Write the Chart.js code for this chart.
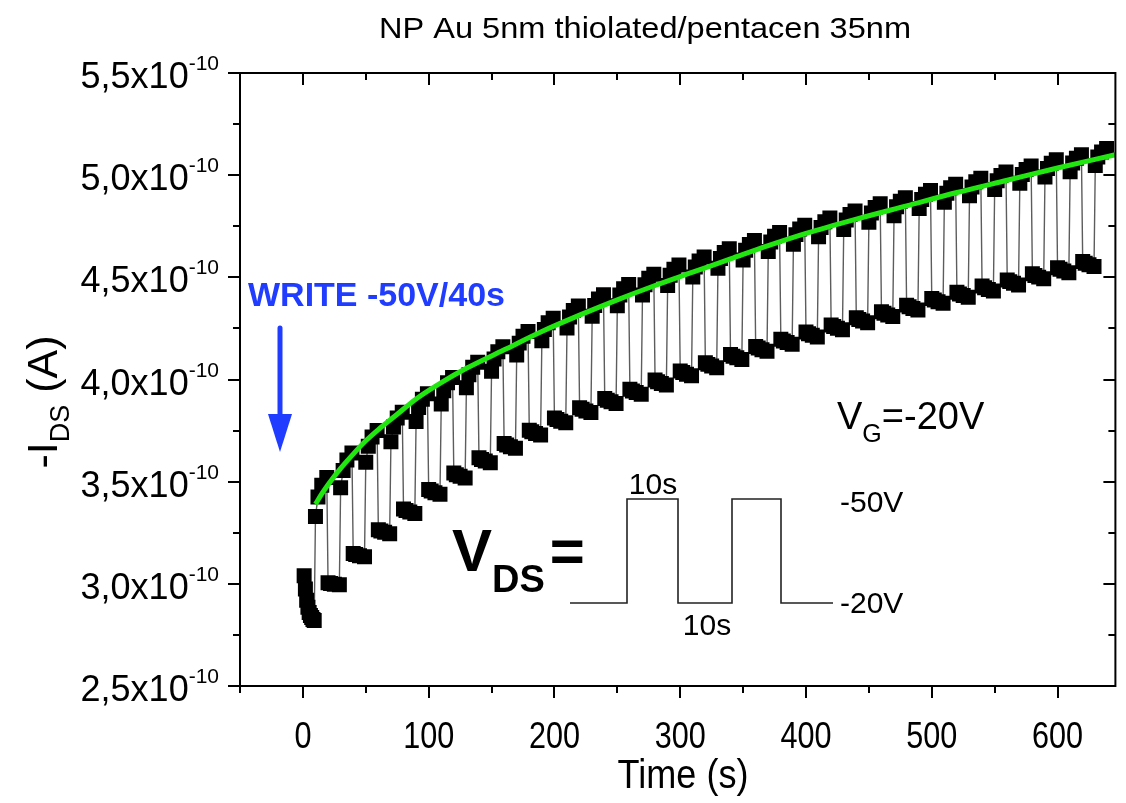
<!DOCTYPE html>
<html>
<head>
<meta charset="utf-8">
<title>NP Au 5nm thiolated/pentacen 35nm</title>
<script src="https://cdn.jsdelivr.net/npm/chart.js@4.4.0/dist/chart.umd.min.js"></script>
<style>
  html, body { margin: 0; padding: 0; background: #fff; }
  canvas { display: block; }
</style>
</head>
<body>
<canvas id="chart" width="1126" height="803"></canvas>
<script>
// -I_DS in units of 1e-10 A, time in s

// first read at -20 V before the write pulses
const initialTimes = [1, 2, 3, 4, 5, 6, 7, 8, 9];
const initialCurrent = [3.04, 2.975, 2.92, 2.885, 2.86, 2.845, 2.835, 2.826, 2.82];

// sample offsets inside each 10 s half period
const sampleOffsets = [0, 2, 5, 9];
const periodStart = 10;   // first -50 V step
const period = 20;        // 10 s at -50 V + 10 s at -20 V

// -50 V steps (one row per cycle)
const highCurrent = [
  [3.33, 3.425, 3.482, 3.52],
  [3.47, 3.555, 3.606, 3.64],
  [3.595, 3.673, 3.719, 3.75],
  [3.695, 3.768, 3.811, 3.84],
  [3.795, 3.863, 3.903, 3.93],
  [3.88, 3.945, 3.984, 4.01],
  [3.96, 4.023, 4.06, 4.085],
  [4.04, 4.10, 4.136, 4.16],
  [4.12, 4.178, 4.212, 4.235],
  [4.19, 4.245, 4.278, 4.30],
  [4.252, 4.306, 4.338, 4.36],
  [4.309, 4.362, 4.394, 4.415],
  [4.361, 4.413, 4.444, 4.465],
  [4.413, 4.464, 4.495, 4.515],
  [4.46, 4.51, 4.54, 4.56],
  [4.502, 4.551, 4.58, 4.60],
  [4.544, 4.592, 4.621, 4.64],
  [4.585, 4.633, 4.661, 4.68],
  [4.626, 4.673, 4.701, 4.72],
  [4.662, 4.709, 4.736, 4.755],
  [4.698, 4.744, 4.772, 4.79],
  [4.734, 4.78, 4.807, 4.825],
  [4.77, 4.815, 4.842, 4.86],
  [4.801, 4.846, 4.872, 4.89],
  [4.837, 4.881, 4.907, 4.925],
  [4.868, 4.912, 4.938, 4.955],
  [4.899, 4.942, 4.968, 4.985],
  [4.93, 4.973, 4.998, 5.015],
  [4.96, 5.003, 5.028, 5.045],
  [4.991, 5.033, 5.058, 5.075],
  [5.017, 5.059, 5.083, 5.10],
  [5.047, 5.089, 5.113, 5.13]
];

// -20 V steps (one row per cycle)
const lowCurrent = [
  [3.005, 3.002, 2.998, 2.995],
  [3.148, 3.143, 3.137, 3.132],
  [3.265, 3.258, 3.252, 3.245],
  [3.366, 3.359, 3.351, 3.344],
  [3.462, 3.454, 3.446, 3.438],
  [3.542, 3.534, 3.526, 3.518],
  [3.617, 3.609, 3.601, 3.593],
  [3.687, 3.679, 3.671, 3.663],
  [3.752, 3.744, 3.736, 3.728],
  [3.812, 3.804, 3.796, 3.788],
  [3.862, 3.854, 3.846, 3.838],
  [3.907, 3.899, 3.891, 3.883],
  [3.952, 3.944, 3.936, 3.928],
  [3.997, 3.989, 3.981, 3.973],
  [4.042, 4.034, 4.026, 4.018],
  [4.082, 4.074, 4.066, 4.058],
  [4.122, 4.114, 4.106, 4.098],
  [4.162, 4.154, 4.146, 4.138],
  [4.197, 4.189, 4.181, 4.173],
  [4.232, 4.224, 4.216, 4.208],
  [4.267, 4.259, 4.251, 4.243],
  [4.302, 4.294, 4.286, 4.278],
  [4.332, 4.324, 4.316, 4.308],
  [4.364, 4.356, 4.348, 4.340],
  [4.397, 4.389, 4.381, 4.373],
  [4.427, 4.419, 4.411, 4.403],
  [4.457, 4.449, 4.441, 4.433],
  [4.487, 4.479, 4.471, 4.463],
  [4.517, 4.509, 4.501, 4.493],
  [4.547, 4.539, 4.531, 4.523],
  [4.577, 4.569, 4.561, 4.553]
];

// green fit through the -50 V steps
const fitTimes = [10, 15, 20, 30, 40, 50, 60, 75, 90, 110, 130, 160, 190, 220, 250, 280, 310, 340, 370, 400, 440, 480, 520, 560, 600, 646];
const fitCurrent = [3.39, 3.44, 3.485, 3.565, 3.635, 3.70, 3.755, 3.83, 3.905, 3.985, 4.055, 4.145, 4.235, 4.315, 4.39, 4.46, 4.525, 4.59, 4.655, 4.715, 4.785, 4.85, 4.915, 4.975, 5.035, 5.10];

// axes
const xMajorTicks = [0, 100, 200, 300, 400, 500, 600];
const xMinorTicks = [-50, 50, 150, 250, 350, 450, 550];
const yMajorTicks = [2.5, 3.0, 3.5, 4.0, 4.5, 5.0, 5.5];
const yMinorTicks = [2.75, 3.25, 3.75, 4.25, 4.75, 5.25];
const xRange = [-50, 646];
const yRange = [2.5, 5.5];

const SANS = '"Liberation Sans", Arial, Helvetica, sans-serif';

// build the measured series in time order
const measured = [];
initialTimes.forEach((t, i) => measured.push({ x: t, y: initialCurrent[i] }));
highCurrent.forEach((row, k) => {
  const t0 = periodStart + k * period;
  row.forEach((v, j) => measured.push({ x: t0 + sampleOffsets[j], y: v }));
  if (lowCurrent[k]) {
    lowCurrent[k].forEach((v, j) => measured.push({ x: t0 + 10 + sampleOffsets[j], y: v }));
  }
});
const fitted = fitTimes.map((t, i) => ({ x: t, y: fitCurrent[i] }));

// draw text made of runs (for sub/superscripts)
function drawRuns(ctx, parts, x, y, align) {
  let w = 0;
  parts.forEach(p => { ctx.font = p.font; w += ctx.measureText(p.text).width + (p.gap || 0); });
  let cx = x;
  if (align === 'right') cx = x - w;
  else if (align === 'center') cx = x - w / 2;
  parts.forEach(p => {
    ctx.font = p.font;
    cx += p.gap || 0;
    ctx.fillText(p.text, cx, y + (p.dy || 0));
    cx += ctx.measureText(p.text).width;
  });
  return w;
}

function condensed(ctx, sx, x, y, fn) {
  ctx.save();
  ctx.translate(x, y);
  ctx.scale(sx, 1);
  fn();
  ctx.restore();
}

const frameAndLabels = {
  id: 'frameAndLabels',
  afterDraw(chart) {
    const { ctx, chartArea: a, scales: { x, y } } = chart;
    ctx.save();
    ctx.strokeStyle = '#000';
    ctx.fillStyle = '#000';
    ctx.lineWidth = 2;
    ctx.lineCap = 'butt';
    ctx.strokeRect(a.left, a.top, a.right - a.left, a.bottom - a.top);

    ctx.beginPath();
    xMajorTicks.forEach(v => {
      const px = Math.round(x.getPixelForValue(v));
      ctx.moveTo(px, a.bottom); ctx.lineTo(px, a.bottom + 12);
      ctx.moveTo(px, a.top); ctx.lineTo(px, a.top + 12);
    });
    xMinorTicks.forEach(v => {
      const px = Math.round(x.getPixelForValue(v));
      ctx.moveTo(px, a.bottom); ctx.lineTo(px, a.bottom + 7);
      ctx.moveTo(px, a.top); ctx.lineTo(px, a.top + 7);
    });
    yMajorTicks.forEach(v => {
      const py = Math.round(y.getPixelForValue(v));
      ctx.moveTo(a.left - 12, py); ctx.lineTo(a.left, py);
      ctx.moveTo(a.right - 12, py); ctx.lineTo(a.right, py);
    });
    yMinorTicks.forEach(v => {
      const py = Math.round(y.getPixelForValue(v));
      ctx.moveTo(a.left - 7, py); ctx.lineTo(a.left, py);
      ctx.moveTo(a.right - 7, py); ctx.lineTo(a.right, py);
    });
    ctx.stroke();

    ctx.textAlign = 'left';
    ctx.textBaseline = 'alphabetic';

    // y tick labels  5,5x10^-10
    yMajorTicks.forEach(v => {
      const py = y.getPixelForValue(v);
      drawRuns(ctx, [
        { text: v.toFixed(1).replace('.', ',') + 'x10', font: `36px ${SANS}` },
        { text: '-10', font: `21px ${SANS}`, dy: -18 }
      ], 219, py + 15, 'right');
    });

    // x tick labels
    xMajorTicks.forEach(v => {
      const px = x.getPixelForValue(v);
      condensed(ctx, 0.85, px, 748, () => {
        drawRuns(ctx, [{ text: String(v), font: `36px ${SANS}` }], 0, 0, 'center');
      });
    });

    // axis titles
    condensed(ctx, 0.88, 683, 788, () => {
      drawRuns(ctx, [{ text: 'Time (s)', font: `41px ${SANS}` }], 0, 0, 'center');
    });
    ctx.save();
    ctx.translate(57, 402);
    ctx.rotate(-Math.PI / 2);
    drawRuns(ctx, [
      { text: '-I', font: `43px ${SANS}` },
      { text: 'DS', font: `27px ${SANS}`, dy: 12 },
      { text: ' (A)', font: `43px ${SANS}` }
    ], 0, 0, 'center');
    ctx.restore();

    // title
    ctx.font = `29px ${SANS}`;
    const title = 'NP Au 5nm thiolated/pentacen 35nm';
    const tw = ctx.measureText(title).width;
    condensed(ctx, 532 / tw, 645, 38, () => {
      drawRuns(ctx, [{ text: title, font: `29px ${SANS}` }], 0, 0, 'center');
    });

    // write pulse annotation
    const blue = '#1f3cff';
    ctx.fillStyle = blue;
    drawRuns(ctx, [{ text: 'WRITE -50V/40s', font: `bold 34px ${SANS}` }], 248, 306, 'left');
    ctx.strokeStyle = blue;
    ctx.lineWidth = 5;
    ctx.lineCap = 'round';
    ctx.beginPath();
    ctx.moveTo(280, 328); ctx.lineTo(280, 418);
    ctx.stroke();
    ctx.beginPath();
    ctx.moveTo(268, 414); ctx.lineTo(292, 414); ctx.lineTo(280, 452);
    ctx.closePath();
    ctx.fill();

    // V_G
    ctx.fillStyle = '#000';
    drawRuns(ctx, [
      { text: 'V', font: `38px ${SANS}` },
      { text: 'G', font: `25px ${SANS}`, dy: 13 },
      { text: '=-20V', font: `38px ${SANS}` }
    ], 837, 429, 'left');

    // V_DS = pulse sketch
    drawRuns(ctx, [
      { text: 'V', font: `bold 60px ${SANS}` },
      { text: 'DS', font: `bold 38px ${SANS}`, dy: 21 },
      { text: '=', font: `bold 60px ${SANS}`, gap: 5 }
    ], 452, 571, 'left');

    ctx.strokeStyle = '#222';
    ctx.lineWidth = 1.6;
    ctx.lineCap = 'butt';
    ctx.beginPath();
    const wave = [[570, 603], [627, 603], [627, 499], [678, 499], [678, 603], [732, 603], [732, 499], [781, 499], [781, 603], [833, 603]];
    wave.forEach((p, i) => i ? ctx.lineTo(p[0], p[1]) : ctx.moveTo(p[0], p[1]));
    ctx.stroke();

    drawRuns(ctx, [{ text: '10s', font: `30px ${SANS}` }], 653, 494, 'center');
    drawRuns(ctx, [{ text: '10s', font: `30px ${SANS}` }], 707, 635, 'center');
    drawRuns(ctx, [{ text: '-50V', font: `30px ${SANS}` }], 840, 512, 'left');
    drawRuns(ctx, [{ text: '-20V', font: `30px ${SANS}` }], 840, 613, 'left');

    ctx.restore();
  }
};

new Chart(document.getElementById('chart'), {
  type: 'line',
  data: {
    datasets: [
      {
        label: 'fit',
        data: fitted,
        borderColor: '#22e60f',
        borderWidth: 5,
        pointRadius: 0,
        cubicInterpolationMode: 'monotone',
        order: 0
      },
      {
        label: '-IDS',
        data: measured,
        borderColor: '#5c5c5c',
        borderWidth: 1.4,
        tension: 0,
        pointStyle: 'rect',
        pointRadius: 10.6,
        pointBackgroundColor: '#000',
        pointBorderWidth: 0,
        order: 1
      }
    ]
  },
  options: {
    responsive: false,
    animation: false,
    devicePixelRatio: 1,
    layout: { padding: { left: 240, right: 1, top: 73, bottom: 117 } },
    scales: {
      x: { type: 'linear', min: xRange[0], max: xRange[1], display: false },
      y: { type: 'linear', min: yRange[0], max: yRange[1], display: false }
    },
    plugins: {
      legend: { display: false },
      tooltip: { enabled: false },
      title: { display: false }
    }
  },
  plugins: [frameAndLabels]
});
</script>
</body>
</html>
